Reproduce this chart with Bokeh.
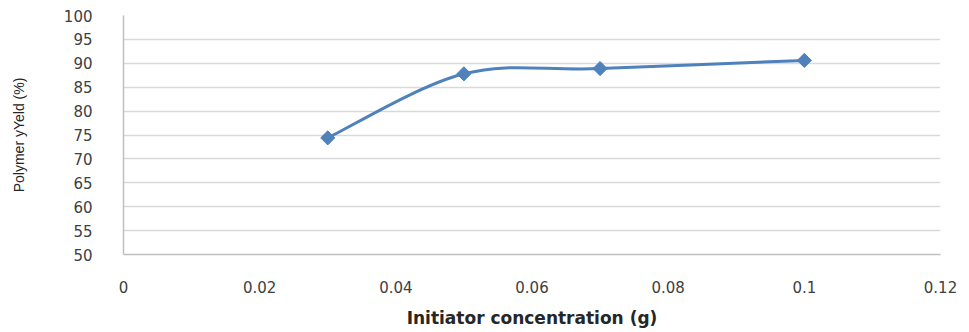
import numpy as np
from bokeh.plotting import figure
from bokeh.models import FixedTicker, CustomJSTickFormatter, Range1d
from bokeh.embed import file_html
from bokeh.resources import INLINE

# Data
concentration = [0.03, 0.05, 0.07, 0.10]
yield_pct = [74.4, 87.8, 88.9, 90.6]
x_ticks = [0, 0.02, 0.04, 0.06, 0.08, 0.10, 0.12]
y_ticks = [50, 55, 60, 65, 70, 75, 80, 85, 90, 95, 100]

BLUE = "#4F81BD"

p = figure(width=969, height=332, output_backend="svg", toolbar_location=None,
           x_range=Range1d(0, 0.12), y_range=Range1d(50, 100),
           min_border_left=123, min_border_right=29, min_border_top=15, min_border_bottom=78)
p.outline_line_color = None
p.background_fill_color = "white"
p.border_fill_color = "white"

# grid
p.xgrid.grid_line_color = None
p.ygrid.grid_line_color = "#D9D9D9"
p.ygrid.grid_line_width = 1.5
p.ygrid.ticker = FixedTicker(ticks=y_ticks)

fmt = CustomJSTickFormatter(code="return String(parseFloat(tick.toFixed(2)));")

xa = p.xaxis[0]
xa.ticker = FixedTicker(ticks=x_ticks)
xa.formatter = fmt
xa.major_tick_line_color = None
xa.minor_tick_line_color = None
xa.axis_line_color = "#BFBFBF"
xa.axis_line_width = 1.5
xa.major_label_text_font = "DejaVu Sans"
xa.major_label_text_font_size = "15px"
xa.major_label_text_color = "#404040"
xa.major_label_standoff = 20
xa.axis_label = "Initiator concentration (g)"
xa.axis_label_text_font = "DejaVu Sans"
xa.axis_label_text_font_style = "bold"
xa.axis_label_text_font_size = "17px"
xa.axis_label_text_color = "#262626"
xa.axis_label_standoff = 12

ya = p.yaxis[0]
ya.ticker = FixedTicker(ticks=y_ticks)
ya.major_tick_line_color = None
ya.minor_tick_line_color = None
ya.axis_line_color = "#BFBFBF"
ya.axis_line_width = 1.5
ya.major_label_text_font = "DejaVu Sans"
ya.major_label_text_font_size = "15px"
ya.major_label_text_color = "#404040"
ya.major_label_standoff = 25
ya.axis_label = "Polymer yYeld (%)"
ya.axis_label_text_font = "Liberation Sans"
ya.axis_label_text_font_style = "normal"
ya.axis_label_text_font_size = "14px"
ya.axis_label_text_color = "#262626"
ya.axis_label_standoff = 34

# smoothed curve (Catmull-Rom -> cubic Bezier) through the data points
x = np.array(concentration, dtype=float)
y = np.array(yield_pct, dtype=float)
xp = np.concatenate([[x[0]], x, [x[-1]]])
yp = np.concatenate([[y[0]], y, [y[-1]]])
n = len(x)
x0 = x[:-1]; y0 = y[:-1]; x1 = x[1:]; y1 = y[1:]
cx0 = x0 + (xp[2:n+1] - xp[0:n-1]) / 6.0
cy0 = y0 + (yp[2:n+1] - yp[0:n-1]) / 6.0
cx1 = x1 - (xp[3:n+2] - xp[1:n]) / 6.0
cy1 = y1 - (yp[3:n+2] - yp[1:n]) / 6.0
p.bezier(x0=x0, y0=y0, x1=x1, y1=y1, cx0=cx0, cy0=cy0, cx1=cx1, cy1=cy1,
         line_color=BLUE, line_width=3)

p.scatter(concentration, yield_pct, marker="square", angle=np.pi / 4, size=10,
          fill_color=BLUE, line_color=BLUE)

open("out.html", "w").write(file_html(p, INLINE))
